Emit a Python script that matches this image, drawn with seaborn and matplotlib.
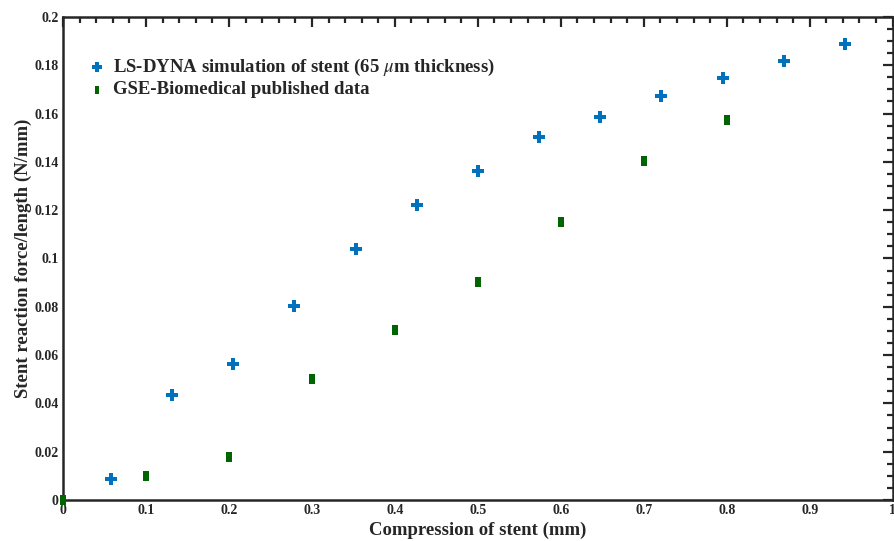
import matplotlib
matplotlib.use("Agg")
import matplotlib.pyplot as plt
import seaborn as sns
import pandas as pd
import numpy as np
from matplotlib.ticker import MultipleLocator

sim_x = [0.058, 0.131, 0.205, 0.279, 0.353, 0.427, 0.500, 0.574, 0.647, 0.721, 0.796, 0.869, 0.943]
sim_y = [0.0085, 0.0435, 0.0563, 0.0805, 0.1038, 0.1222, 0.1360, 0.1503, 0.1587, 0.1673, 0.1745, 0.1817, 0.1887]
pub_x = [0.0, 0.1, 0.2, 0.3, 0.4, 0.5, 0.6, 0.7, 0.8]
pub_y = [0.0, 0.0100, 0.0178, 0.0500, 0.0702, 0.0903, 0.1150, 0.1403, 0.1573]
labels = ["LS-DYNA simulation of stent (65 $\\mu$m thickness)", "GSE-Biomedical published data"]
xtick_labels = ["0", "0.1", "0.2", "0.3", "0.4", "0.5", "0.6", "0.7", "0.8", "0.9", "1"]
ytick_labels = ["0", "0.02", "0.04", "0.06", "0.08", "0.1", "0.12", "0.14", "0.16", "0.18", "0.2"]

sns.set_theme(style="white")
plt.rcParams['font.family'] = ['Liberation Serif', 'DejaVu Serif']
plt.rcParams['mathtext.fontset'] = 'stix'

df = pd.concat([
    pd.DataFrame({"x": sim_x, "y": sim_y, "series": labels[0]}),
    pd.DataFrame({"x": pub_x, "y": pub_y, "series": labels[1]}),
])

fig = plt.figure(figsize=(8.94, 5.41), dpi=100)
ax = fig.add_axes([0.0705, 0.0758, 0.928, 0.893])

rect = [(-0.5, -1), (0.5, -1), (0.5, 1), (-0.5, 1), (-0.5, -1)]
sns.scatterplot(data=df[df.series == labels[0]], x="x", y="y", ax=ax, marker="P",
                color="#0072BD", s=70, linewidth=0, label=labels[0], clip_on=False, zorder=3)
sns.scatterplot(data=df[df.series == labels[1]], x="x", y="y", ax=ax, marker=rect,
                color="#006400", s=55, linewidth=0, label=labels[1], clip_on=False, zorder=3)

ax.set_xlim(0, 1)
ax.set_ylim(0, 0.2)
ax.set_xticks(np.arange(0, 1.01, 0.1))
ax.set_xticklabels(xtick_labels)
ax.set_yticks(np.arange(0, 0.201, 0.02))
ax.set_yticklabels(ytick_labels)
ax.xaxis.set_minor_locator(MultipleLocator(0.02))
ax.yaxis.set_minor_locator(MultipleLocator(0.005))

for s in ax.spines.values():
    s.set_linewidth(1.8)
    s.set_color("#262626")
ax.tick_params(which="both", direction="in", top=True, right=True, color="#262626",
               labelsize=10, pad=3, width=1.6)
ax.tick_params(which="major", length=7)
ax.tick_params(which="minor", length=4)
for t in ax.get_xticklabels() + ax.get_yticklabels():
    t.set_fontweight("bold")
    t.set_color("#262626")

ax.set_xlabel("Compression of stent (mm)", fontsize=13.5, fontweight="bold", labelpad=3, color="#262626")
ax.set_ylabel("Stent reaction force/length (N/mm)", fontsize=13.5, fontweight="bold", labelpad=2, color="#262626")

leg = ax.legend(loc="upper left", bbox_to_anchor=(0.030, 0.918), frameon=False,
                prop={"family": ["Liberation Serif"], "weight": "bold", "size": 13.5},
                handlelength=1.0, handletextpad=0.35, labelspacing=0.2, markerscale=0.85,
                borderaxespad=0, borderpad=0)

fig.savefig("out.png", dpi=100)
